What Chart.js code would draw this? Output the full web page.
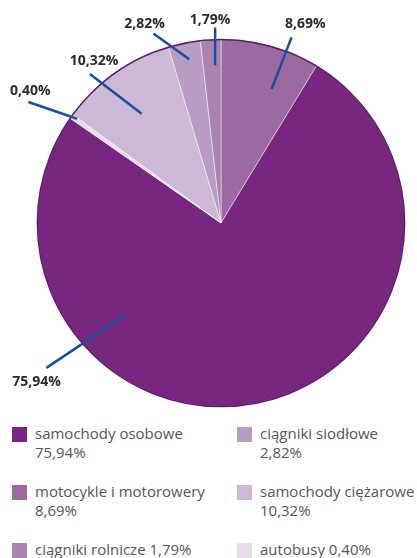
<!DOCTYPE html>
<html>
<head>
<meta charset="utf-8">
<script src="https://cdn.jsdelivr.net/npm/chart.js@4"></script>
<style>
  html, body { margin: 0; padding: 0; background: #fff; }
  body { width: 417px; height: 558px; position: relative; overflow: hidden; font-family: "Open Sans", sans-serif; }
  #wrap { position: absolute; left: 0; top: 0; width: 417px; height: 415px; }
  .item { position: absolute; width: 180px; }
  .sq { position: absolute; left: 0; top: 0; width: 15px; height: 15px; }
  .txt { position: absolute; left: 23px; top: -3px; font-size: 15px; line-height: 19px; color: #555; white-space: nowrap; }
</style>
</head>
<body>
<div id="wrap"><canvas id="pie"></canvas></div>
<div id="legend"></div>
<script>
  // dane - kolejność zgodnie z ruchem wskazówek zegara od góry
  const kategorie = ['motocykle i motorowery', 'samochody osobowe', 'autobusy', 'samochody ciężarowe', 'ciągniki siodłowe', 'ciągniki rolnicze'];
  const udzialy = [8.69, 75.94, 0.40, 10.32, 2.82, 1.79];
  const kolory = ['#9b6aa1', '#782780', '#e8dcea', '#cdb8d6', '#b89cc3', '#a984af'];

  // kolejność w legendzie
  const legendaKolejnosc = ['samochody osobowe', 'ciągniki siodłowe', 'motocykle i motorowery', 'samochody ciężarowe', 'ciągniki rolnicze', 'autobusy'];

  // linie odnośników (względem środka, w promieniach): wewn., zewn., tekst
  const odnosniki = [
    [[0.276, -0.730], [0.384, -1.011], [0.459, -1.086]],
    [[-0.524, 0.503], [-0.951, 0.789], [-1.005, 0.865]],
    [[-0.784, -0.568], [-1.049, -0.659], [-1.038, -0.719]],
    [[-0.432, -0.595], [-0.714, -0.811], [-0.692, -0.881]],
    [[-0.173, -0.892], [-0.368, -1.032], [-0.416, -1.086]],
    [[-0.032, -0.859], [-0.032, -1.065], [-0.059, -1.108]]
  ];

  const fmt = v => v.toFixed(2).replace('.', ',') + '%';

  // obwódka i odnośniki
  const odnosnikiPlugin = {
    id: 'odnosniki',
    afterDatasetsDraw(chart) {
      const ctx = chart.ctx;
      const arc = chart.getDatasetMeta(0).data[0];
      const cx = arc.x, cy = arc.y, r = arc.outerRadius;
      ctx.save();
      ctx.beginPath();
      ctx.arc(cx, cy, r, 0, Math.PI * 2);
      ctx.strokeStyle = '#5e1a68';
      ctx.lineWidth = 1.5;
      ctx.stroke();

      ctx.strokeStyle = '#1b4f9e';
      ctx.lineWidth = 2.5;
      ctx.font = 'bold 14px "Open Sans", sans-serif';
      ctx.fillStyle = '#2b2b2b';
      ctx.textAlign = 'center';
      ctx.textBaseline = 'middle';
      udzialy.forEach((v, i) => {
        const [a, b, t] = odnosniki[i];
        ctx.beginPath();
        ctx.moveTo(cx + a[0] * r, cy + a[1] * r);
        ctx.lineTo(cx + b[0] * r, cy + b[1] * r);
        ctx.stroke();
        ctx.fillText(fmt(v), cx + t[0] * r, cy + t[1] * r);
      });
      ctx.restore();
    }
  };

  const ctx = document.getElementById('pie');
  const wykres = new Chart(ctx, {
    type: 'pie',
    data: {
      labels: kategorie,
      datasets: [{
        data: udzialy,
        backgroundColor: kolory,
        borderColor: 'rgba(255,255,255,0.6)',
        borderWidth: 0.8
      }]
    },
    options: {
      responsive: false,
      animation: false,
      layout: { padding: { left: 37, right: 10, top: 38, bottom: 7 } },
      plugins: {
        legend: { display: false },
        tooltip: { enabled: false }
      }
    },
    plugins: [odnosnikiPlugin]
  });
  ctx.width = 417; ctx.height = 415;
  wykres.resize(417, 415);

  // legenda HTML
  const legenda = document.getElementById('legend');
  legendaKolejnosc.forEach((nazwa, k) => {
    const i = kategorie.indexOf(nazwa);
    const kol = k % 2, wiersz = Math.floor(k / 2);
    const el = document.createElement('div');
    el.className = 'item';
    el.style.left = (kol === 0 ? 12 : 237) + 'px';
    el.style.top = (427 + wiersz * 58) + 'px';
    const tekst = wiersz === 2 ? nazwa + ' ' + fmt(udzialy[i]) : nazwa + '<br>' + fmt(udzialy[i]);
    el.innerHTML = '<div class="sq" style="background:' + kolory[i] + '"></div><div class="txt">' + tekst + '</div>';
    legenda.appendChild(el);
  });
</script>
</body>
</html>
